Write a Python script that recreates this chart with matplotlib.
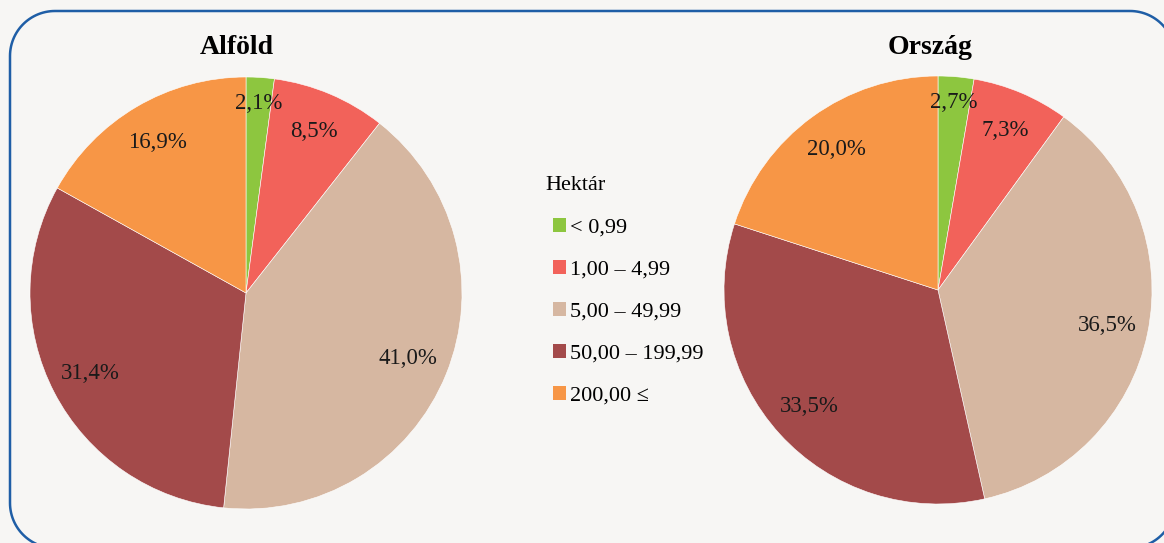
import matplotlib.pyplot as plt
from matplotlib.path import Path
from matplotlib.patches import PathPatch
import numpy as np

# Data
categories = ['< 0,99', '1,00 – 4,99', '5,00 – 49,99', '50,00 – 199,99', '200,00 ≤']
alfold = [2.1, 8.5, 41.0, 31.4, 16.9]
orszag = [2.7, 7.3, 36.5, 33.5, 20.0]
alfold_labels = ['2,1%', '8,5%', '41,0%', '31,4%', '16,9%']
orszag_labels = ['2,7%', '7,3%', '36,5%', '33,5%', '20,0%']
colors = ['#8DC63F', '#F2625A', '#D6B7A1', '#A34A4A', '#F79646']

bg = '#F7F6F4'
W, H = 1164, 543
fig = plt.figure(figsize=(W / 100, H / 100), dpi=100, facecolor=bg)
plt.rcParams['font.family'] = ['Liberation Serif', 'DejaVu Serif']

# rounded frame in pixel units (y down), corners as circular arcs
frame = fig.add_axes([0, 0, 1, 1])
frame.set_xlim(0, W)
frame.set_ylim(H, 0)
frame.axis('off')
x0, y0, x1, y1, rr = 10, 11, 1175, 548, 45
pts = []
for cx, cy, a0 in [(x1 - rr, y0 + rr, -90), (x1 - rr, y1 - rr, 0),
                   (x0 + rr, y1 - rr, 90), (x0 + rr, y0 + rr, 180)]:
    t = np.deg2rad(np.linspace(a0, a0 + 90, 30))
    pts += list(zip(cx + rr * np.cos(t), cy + rr * np.sin(t)))
pts.append(pts[0])
frame.add_patch(PathPatch(Path(pts), fc='none', ec='#1F5EA6', lw=1.8, clip_on=False))


def draw_pie(cx, cy, r, vals, labels, title, tx):
    ax = fig.add_axes([(cx - r) / W, (H - cy - r) / H, 2 * r / W, 2 * r / H])
    wedges, _ = ax.pie(vals, colors=colors, startangle=90, counterclock=False,
                       radius=1, wedgeprops=dict(edgecolor='white', linewidth=0.4))
    ax.set_xlim(-1, 1)
    ax.set_ylim(-1, 1)
    ax.set_aspect('equal')
    for w, lab, v in zip(wedges, labels, vals):
        ang = np.deg2rad((w.theta1 + w.theta2) / 2)
        d = 0.88 if v < 5 else 0.81
        ax.text(d * np.cos(ang), d * np.sin(ang), lab, ha='center', va='center',
                fontsize=16.5, color='#1a1a1a')
    fig.text(tx / W, 1 - 47 / H, title, ha='center', va='center',
             fontsize=20, fontweight='bold')
    return wedges


wedges = draw_pie(246, 293, 216, alfold, alfold_labels, 'Alföld', 237)
draw_pie(938, 290, 214, orszag, orszag_labels, 'Ország', 930)

fig.text(545 / W, 1 - 185 / H, 'Hektár', ha='left', va='center', fontsize=16)
leg = fig.legend(wedges, categories, loc='upper left',
                 bbox_to_anchor=(533 / W, 1 - 198 / H), frameon=False,
                 fontsize=16, handlelength=0.6, handleheight=0.6,
                 handletextpad=0.15, labelspacing=0.99)
for h in leg.legend_handles:
    h.set_edgecolor('none')

fig.savefig('out.png', dpi=100, facecolor=bg)
